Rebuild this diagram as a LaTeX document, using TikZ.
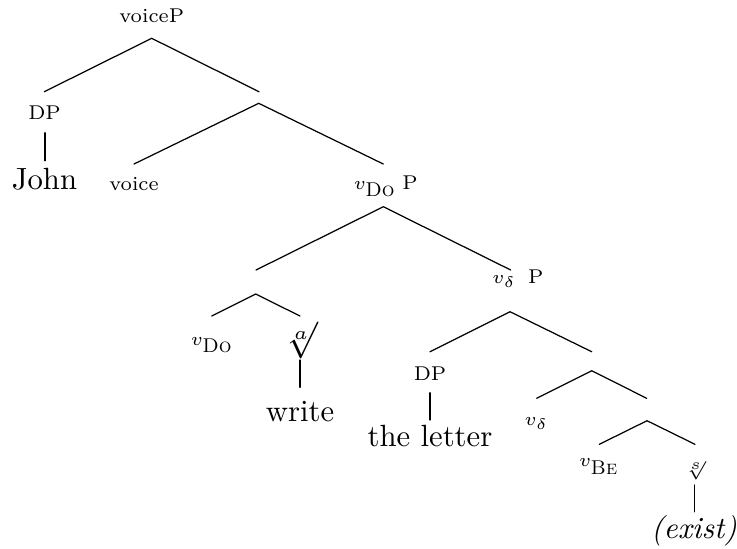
\documentclass[tikz,border=0pt]{standalone}
\usepackage{graphicx}
\newcommand\lblfont{\fontsize{6.5}{8}\selectfont}
\tikzset{
  x=0.3257pt, y=-0.3257pt,
  lab/.style={font=\lblfont, inner sep=0pt, anchor=base},
  leaf/.style={font=\normalsize, inner sep=0pt, anchor=base},
  root/.style={inner sep=0pt, anchor=south},
  branch/.style={line width=0.4pt, line cap=round}
}
\begin{document}
\begin{tikzpicture}
\useasboundingbox (0,0) rectangle (737,548);
% labels
\node[lab] (voiceP) at (151.7,22.7) {voiceP};
\node[lab] (dp1) at (44.5,119.3) {DP};
\node[leaf] (john) at (44.5,189) {John};
\node[lab] (voice) at (134,190) {voice};
\node[lab, anchor=base west] (vdop) at (353.3,189) {$v_{\textsc{Do}}$\hspace{2pt}P};
\node[lab] (vdo) at (212,345) {$v_{\textsc{Do}}$};
\node[root] (rta) at (301,359.5) {\scalebox{1.2}{$\sqrt[a]{}$}};
\node[leaf] (write) at (300,421) {write};
\node[lab, anchor=base west] (vdp) at (491.7,283.3) {$v_\delta$\hspace{4pt}P};
\node[lab] (dp2) at (430,380) {DP};
\node[leaf] (letter) at (430,446.7) {the letter};
\node[lab] (vd) at (536.5,425) {$v_\delta$};
\node[lab] (vbe) at (599,466.7) {$v_{\textsc{Be}}$};
\node[root, font=\lblfont] (rts) at (695,480.5) {$\sqrt[s]{}$};
\node[leaf] (exist) at (694,538.3) {\textit{(exist)}};
% attachment points
\coordinate (r-b) at (151.7,38.3);
\coordinate (dp1-t) at (44.3,91.7);
\coordinate (n1-t) at (259,91.7);
\coordinate (n1-b) at (258.7,103.3);
\coordinate (voice-t) at (134,164);
\coordinate (vdop-t) at (383.3,164);
\coordinate (vdop-b) at (383.3,206.7);
\coordinate (n2-t) at (256,270);
\coordinate (n2-b) at (255.7,294);
\coordinate (vdo-t) at (211.7,316);
\coordinate (rta-t) at (300,316);
\coordinate (vdp-t) at (510.7,270);
\coordinate (vdp-b) at (510,311.7);
\coordinate (dp2-t) at (430,351.7);
\coordinate (n3-t) at (591.7,351.7);
\coordinate (n3-b) at (591.7,370.7);
\coordinate (vd-t) at (536.7,398.3);
\coordinate (n4-t) at (646.7,398.3);
\coordinate (n4-b) at (647,420.7);
\coordinate (vbe-t) at (599.3,444.3);
\coordinate (rts-t) at (695,444.3);
\coordinate (dp1-b) at (45,132.7);
\coordinate (john-t) at (45,160.7);
\coordinate (rta-b) at (300,360);
\coordinate (write-t) at (300,387.3);
\coordinate (dp2-b) at (430,392.7);
\coordinate (letter-t) at (430,420);
\coordinate (rts-b) at (694.3,485);
\coordinate (exist-t) at (694.3,511.7);
% branches
\draw[branch] (dp1-t) -- (r-b) -- (n1-t);
\draw[branch] (voice-t) -- (n1-b) -- (vdop-t);
\draw[branch] (n2-t) -- (vdop-b) -- (vdp-t);
\draw[branch] (vdo-t) -- (n2-b) -- (rta-t);
\draw[branch] (dp2-t) -- (vdp-b) -- (n3-t);
\draw[branch] (vd-t) -- (n3-b) -- (n4-t);
\draw[branch] (vbe-t) -- (n4-b) -- (rts-t);
\draw[branch] (dp1-b) -- (john-t);
\draw[branch] (rta-b) -- (write-t);
\draw[branch] (dp2-b) -- (letter-t);
\draw[branch] (rts-b) -- (exist-t);
\end{tikzpicture}
\end{document}
